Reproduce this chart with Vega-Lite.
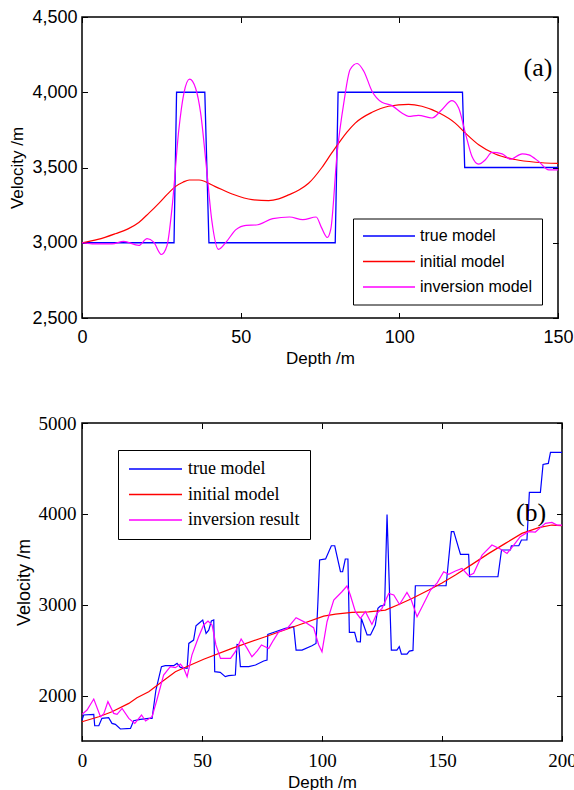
{
  "$schema": "https://vega.github.io/schema/vega-lite/v6.json",
  "background": "white",
  "padding": {"left": 8, "top": 7, "right": 0, "bottom": 0},
  "bounds": "flush",
  "spacing": 105,
  "config": {
    "view": {"stroke": "black", "strokeWidth": 1.5},
    "axis": {"domain": false, "grid": false, "ticks": true, "tickSize": -5.5, "tickColor": "black", "tickWidth": 1,
             "labelColor": "black", "titleColor": "black", "titleFontWeight": "normal", "labelFlush": false},
    "legend": {"orient": "none", "title": null, "strokeColor": "black", "fillColor": "white", "symbolType": "stroke",
               "symbolSize": 2704, "symbolStrokeWidth": 1.3, "labelColor": "black", "cornerRadius": 0}
  },
  "resolve": {"scale": {"x": "independent", "y": "independent", "color": "independent"}, "legend": {"color": "independent"}},
  "datasets": {
    "a_true": [
      {"depth": 0, "vel": 3000, "model": "true model"}, {"depth": 29, "vel": 3000, "model": "true model"},
      {"depth": 29.8, "vel": 4000, "model": "true model"}, {"depth": 38.7, "vel": 4000, "model": "true model"},
      {"depth": 40, "vel": 3000, "model": "true model"}, {"depth": 79.8, "vel": 3000, "model": "true model"},
      {"depth": 80.7, "vel": 4000, "model": "true model"}, {"depth": 119.9, "vel": 4000, "model": "true model"},
      {"depth": 120.6, "vel": 3500, "model": "true model"}, {"depth": 150, "vel": 3500, "model": "true model"}
    ],
    "a_init": [
      {"depth": 0, "vel": 3000, "model": "initial model"}, {"depth": 5, "vel": 3022, "model": "initial model"},
      {"depth": 10.5, "vel": 3060, "model": "initial model"}, {"depth": 14.5, "vel": 3092, "model": "initial model"},
      {"depth": 17.9, "vel": 3135, "model": "initial model"}, {"depth": 21, "vel": 3195, "model": "initial model"},
      {"depth": 24.2, "vel": 3262, "model": "initial model"}, {"depth": 27, "vel": 3325, "model": "initial model"},
      {"depth": 29.4, "vel": 3373, "model": "initial model"}, {"depth": 31.8, "vel": 3402, "model": "initial model"},
      {"depth": 33.8, "vel": 3417, "model": "initial model"}, {"depth": 36.9, "vel": 3417, "model": "initial model"},
      {"depth": 42, "vel": 3373, "model": "initial model"}, {"depth": 47.3, "vel": 3324, "model": "initial model"},
      {"depth": 53.6, "vel": 3286, "model": "initial model"}, {"depth": 58.8, "vel": 3280, "model": "initial model"},
      {"depth": 62, "vel": 3292, "model": "initial model"}, {"depth": 65.1, "vel": 3318, "model": "initial model"},
      {"depth": 68.5, "vel": 3352, "model": "initial model"}, {"depth": 71.4, "vel": 3395, "model": "initial model"},
      {"depth": 75.6, "vel": 3500, "model": "initial model"}, {"depth": 78.5, "vel": 3590, "model": "initial model"},
      {"depth": 80.9, "vel": 3662, "model": "initial model"}, {"depth": 83.5, "vel": 3735, "model": "initial model"},
      {"depth": 86.1, "vel": 3795, "model": "initial model"}, {"depth": 91.4, "vel": 3867, "model": "initial model"},
      {"depth": 96.6, "vel": 3907, "model": "initial model"}, {"depth": 102.9, "vel": 3920, "model": "initial model"},
      {"depth": 107.1, "vel": 3907, "model": "initial model"}, {"depth": 112.6, "vel": 3862, "model": "initial model"},
      {"depth": 117.6, "vel": 3795, "model": "initial model"}, {"depth": 120.8, "vel": 3729, "model": "initial model"},
      {"depth": 125, "vel": 3651, "model": "initial model"}, {"depth": 130.2, "vel": 3590, "model": "initial model"},
      {"depth": 136.5, "vel": 3553, "model": "initial model"}, {"depth": 142.9, "vel": 3535, "model": "initial model"},
      {"depth": 150, "vel": 3527, "model": "initial model"}
    ],
    "a_inv": [
      {"depth": 0, "vel": 3000, "model": "inversion model"}, {"depth": 3.2, "vel": 2993, "model": "inversion model"},
      {"depth": 9.5, "vel": 2993, "model": "inversion model"}, {"depth": 13.1, "vel": 3009, "model": "inversion model"},
      {"depth": 17.9, "vel": 2982, "model": "inversion model"}, {"depth": 20.5, "vel": 3027, "model": "inversion model"},
      {"depth": 22.6, "vel": 3004, "model": "inversion model"}, {"depth": 25, "vel": 2922, "model": "inversion model"},
      {"depth": 26.8, "vel": 2982, "model": "inversion model"}, {"depth": 28.4, "vel": 3238, "model": "inversion model"},
      {"depth": 30.5, "vel": 3749, "model": "inversion model"}, {"depth": 32.1, "vel": 3993, "model": "inversion model"},
      {"depth": 33.9, "vel": 4087, "model": "inversion model"}, {"depth": 35.8, "vel": 4027, "model": "inversion model"},
      {"depth": 37.4, "vel": 3860, "model": "inversion model"}, {"depth": 39.2, "vel": 3504, "model": "inversion model"},
      {"depth": 40.9, "vel": 3149, "model": "inversion model"}, {"depth": 43, "vel": 2956, "model": "inversion model"},
      {"depth": 45.4, "vel": 3004, "model": "inversion model"}, {"depth": 48.5, "vel": 3087, "model": "inversion model"},
      {"depth": 51.7, "vel": 3116, "model": "inversion model"}, {"depth": 54.9, "vel": 3118, "model": "inversion model"},
      {"depth": 60.1, "vel": 3160, "model": "inversion model"}, {"depth": 65.4, "vel": 3171, "model": "inversion model"},
      {"depth": 69.6, "vel": 3153, "model": "inversion model"}, {"depth": 73.8, "vel": 3171, "model": "inversion model"},
      {"depth": 75.4, "vel": 3104, "model": "inversion model"}, {"depth": 77.3, "vel": 3035, "model": "inversion model"},
      {"depth": 78.4, "vel": 3090, "model": "inversion model"}, {"depth": 80.4, "vel": 3595, "model": "inversion model"},
      {"depth": 82.5, "vel": 3929, "model": "inversion model"}, {"depth": 84.5, "vel": 4151, "model": "inversion model"},
      {"depth": 86.7, "vel": 4191, "model": "inversion model"}, {"depth": 88.8, "vel": 4140, "model": "inversion model"},
      {"depth": 91.4, "vel": 4007, "model": "inversion model"}, {"depth": 94.5, "vel": 3933, "model": "inversion model"},
      {"depth": 97.7, "vel": 3911, "model": "inversion model"}, {"depth": 100.8, "vel": 3862, "model": "inversion model"},
      {"depth": 102.9, "vel": 3840, "model": "inversion model"}, {"depth": 106, "vel": 3847, "model": "inversion model"},
      {"depth": 110.3, "vel": 3829, "model": "inversion model"}, {"depth": 113.4, "vel": 3884, "model": "inversion model"},
      {"depth": 116.6, "vel": 3944, "model": "inversion model"}, {"depth": 118.7, "vel": 3895, "model": "inversion model"},
      {"depth": 120.8, "vel": 3729, "model": "inversion model"}, {"depth": 122.9, "vel": 3573, "model": "inversion model"},
      {"depth": 125, "vel": 3522, "model": "inversion model"}, {"depth": 127.1, "vel": 3551, "model": "inversion model"},
      {"depth": 129.2, "vel": 3600, "model": "inversion model"}, {"depth": 132.4, "vel": 3591, "model": "inversion model"},
      {"depth": 135, "vel": 3555, "model": "inversion model"}, {"depth": 138.7, "vel": 3591, "model": "inversion model"},
      {"depth": 140.8, "vel": 3584, "model": "inversion model"}, {"depth": 143.9, "vel": 3540, "model": "inversion model"},
      {"depth": 147.1, "vel": 3484, "model": "inversion model"}, {"depth": 150, "vel": 3484, "model": "inversion model"}
    ],
    "a_lab": [{"depth": 143.7, "vel": 4160, "label": "(a)"}],
    "b_true": [
      {"depth": 0, "vel": 1731, "model": "true model"}, {"depth": 0.7, "vel": 1786, "model": "true model"},
      {"depth": 4.9, "vel": 1793, "model": "true model"}, {"depth": 5.3, "vel": 1668, "model": "true model"},
      {"depth": 7, "vel": 1668, "model": "true model"}, {"depth": 8.3, "vel": 1749, "model": "true model"},
      {"depth": 11.1, "vel": 1756, "model": "true model"}, {"depth": 12.5, "vel": 1694, "model": "true model"},
      {"depth": 13.9, "vel": 1683, "model": "true model"}, {"depth": 16, "vel": 1632, "model": "true model"},
      {"depth": 20.2, "vel": 1639, "model": "true model"}, {"depth": 21.5, "vel": 1723, "model": "true model"},
      {"depth": 24.3, "vel": 1738, "model": "true model"}, {"depth": 27.8, "vel": 1749, "model": "true model"},
      {"depth": 29.2, "vel": 1749, "model": "true model"}, {"depth": 30.8, "vel": 2061, "model": "true model"},
      {"depth": 33.1, "vel": 2318, "model": "true model"}, {"depth": 34.7, "vel": 2329, "model": "true model"},
      {"depth": 38.2, "vel": 2329, "model": "true model"}, {"depth": 39.6, "vel": 2354, "model": "true model"},
      {"depth": 41, "vel": 2310, "model": "true model"}, {"depth": 43.8, "vel": 2299, "model": "true model"},
      {"depth": 44.5, "vel": 2574, "model": "true model"}, {"depth": 46.5, "vel": 2611, "model": "true model"},
      {"depth": 47.5, "vel": 2769, "model": "true model"}, {"depth": 48.6, "vel": 2794, "model": "true model"},
      {"depth": 50.3, "vel": 2832, "model": "true model"}, {"depth": 51.7, "vel": 2684, "model": "true model"},
      {"depth": 52.8, "vel": 2720, "model": "true model"}, {"depth": 53.9, "vel": 2821, "model": "true model"},
      {"depth": 54.9, "vel": 2832, "model": "true model"}, {"depth": 55.3, "vel": 2263, "model": "true model"},
      {"depth": 57.6, "vel": 2256, "model": "true model"}, {"depth": 59.7, "vel": 2208, "model": "true model"},
      {"depth": 61.1, "vel": 2219, "model": "true model"}, {"depth": 63.9, "vel": 2226, "model": "true model"},
      {"depth": 64.6, "vel": 2563, "model": "true model"}, {"depth": 65.3, "vel": 2560, "model": "true model"},
      {"depth": 66, "vel": 2318, "model": "true model"}, {"depth": 69.5, "vel": 2318, "model": "true model"},
      {"depth": 72.3, "vel": 2336, "model": "true model"}, {"depth": 75.7, "vel": 2380, "model": "true model"},
      {"depth": 77.1, "vel": 2391, "model": "true model"}, {"depth": 77.4, "vel": 2673, "model": "true model"},
      {"depth": 80.6, "vel": 2703, "model": "true model"}, {"depth": 84.7, "vel": 2739, "model": "true model"},
      {"depth": 88.2, "vel": 2758, "model": "true model"}, {"depth": 89.2, "vel": 2501, "model": "true model"},
      {"depth": 91.7, "vel": 2501, "model": "true model"}, {"depth": 95.8, "vel": 2549, "model": "true model"},
      {"depth": 97.5, "vel": 2574, "model": "true model"}, {"depth": 98.3, "vel": 3033, "model": "true model"},
      {"depth": 99, "vel": 3492, "model": "true model"}, {"depth": 101.5, "vel": 3504, "model": "true model"},
      {"depth": 103.9, "vel": 3649, "model": "true model"}, {"depth": 105.3, "vel": 3649, "model": "true model"},
      {"depth": 107.7, "vel": 3363, "model": "true model"}, {"depth": 108.6, "vel": 3363, "model": "true model"},
      {"depth": 109.7, "vel": 3503, "model": "true model"}, {"depth": 110.8, "vel": 3503, "model": "true model"},
      {"depth": 111.4, "vel": 2696, "model": "true model"}, {"depth": 113.6, "vel": 2696, "model": "true model"},
      {"depth": 114.6, "vel": 2593, "model": "true model"}, {"depth": 116, "vel": 2590, "model": "true model"},
      {"depth": 116.4, "vel": 2849, "model": "true model"}, {"depth": 118.8, "vel": 2667, "model": "true model"},
      {"depth": 120.2, "vel": 2667, "model": "true model"}, {"depth": 122.2, "vel": 2777, "model": "true model"},
      {"depth": 123.3, "vel": 2960, "model": "true model"}, {"depth": 124.3, "vel": 2985, "model": "true model"},
      {"depth": 126.1, "vel": 2997, "model": "true model"}, {"depth": 127.1, "vel": 3994, "model": "true model"},
      {"depth": 128.9, "vel": 2501, "model": "true model"}, {"depth": 131.2, "vel": 2501, "model": "true model"},
      {"depth": 132.2, "vel": 2538, "model": "true model"}, {"depth": 133.1, "vel": 2457, "model": "true model"},
      {"depth": 135.4, "vel": 2457, "model": "true model"}, {"depth": 136.4, "vel": 2490, "model": "true model"},
      {"depth": 137.9, "vel": 2497, "model": "true model"}, {"depth": 138.9, "vel": 3209, "model": "true model"},
      {"depth": 151.7, "vel": 3209, "model": "true model"}, {"depth": 153.9, "vel": 3804, "model": "true model"},
      {"depth": 154.9, "vel": 3804, "model": "true model"}, {"depth": 157.7, "vel": 3554, "model": "true model"},
      {"depth": 161.1, "vel": 3554, "model": "true model"}, {"depth": 161.5, "vel": 3308, "model": "true model"},
      {"depth": 173.3, "vel": 3308, "model": "true model"}, {"depth": 174.8, "vel": 3602, "model": "true model"},
      {"depth": 178.5, "vel": 3602, "model": "true model"}, {"depth": 178.9, "vel": 3649, "model": "true model"},
      {"depth": 182, "vel": 3649, "model": "true model"}, {"depth": 183.1, "vel": 3712, "model": "true model"},
      {"depth": 185.4, "vel": 3712, "model": "true model"}, {"depth": 186.4, "vel": 4236, "model": "true model"},
      {"depth": 191, "vel": 4236, "model": "true model"}, {"depth": 192.1, "vel": 4544, "model": "true model"},
      {"depth": 194.3, "vel": 4555, "model": "true model"}, {"depth": 195.2, "vel": 4676, "model": "true model"},
      {"depth": 200, "vel": 4676, "model": "true model"}
    ],
    "b_init": [
      {"depth": 0, "vel": 1712, "model": "initial model"}, {"depth": 7, "vel": 1767, "model": "initial model"},
      {"depth": 12.5, "vel": 1822, "model": "initial model"}, {"depth": 19.5, "vel": 1914, "model": "initial model"},
      {"depth": 22.9, "vel": 1977, "model": "initial model"}, {"depth": 27.8, "vel": 2043, "model": "initial model"},
      {"depth": 33.3, "vel": 2153, "model": "initial model"}, {"depth": 38.9, "vel": 2263, "model": "initial model"},
      {"depth": 44.5, "vel": 2329, "model": "initial model"}, {"depth": 50.7, "vel": 2400, "model": "initial model"},
      {"depth": 62.5, "vel": 2519, "model": "initial model"}, {"depth": 76.4, "vel": 2648, "model": "initial model"},
      {"depth": 90.3, "vel": 2777, "model": "initial model"}, {"depth": 100.7, "vel": 2875, "model": "initial model"},
      {"depth": 105.6, "vel": 2897, "model": "initial model"}, {"depth": 112.5, "vel": 2915, "model": "initial model"},
      {"depth": 119.4, "vel": 2922, "model": "initial model"}, {"depth": 126.4, "vel": 2941, "model": "initial model"},
      {"depth": 132, "vel": 3003, "model": "initial model"}, {"depth": 137.5, "vel": 3069, "model": "initial model"},
      {"depth": 144.5, "vel": 3162, "model": "initial model"}, {"depth": 150, "vel": 3240, "model": "initial model"},
      {"depth": 155.6, "vel": 3327, "model": "initial model"}, {"depth": 162.5, "vel": 3444, "model": "initial model"},
      {"depth": 169.5, "vel": 3565, "model": "initial model"}, {"depth": 176.4, "vel": 3675, "model": "initial model"},
      {"depth": 183.3, "vel": 3785, "model": "initial model"}, {"depth": 190.3, "vel": 3848, "model": "initial model"},
      {"depth": 195.8, "vel": 3877, "model": "initial model"}, {"depth": 200, "vel": 3870, "model": "initial model"}
    ],
    "b_inv": [
      {"depth": 0, "vel": 1793, "model": "inversion result"}, {"depth": 2.1, "vel": 1841, "model": "inversion result"},
      {"depth": 4.9, "vel": 1962, "model": "inversion result"}, {"depth": 7.7, "vel": 1767, "model": "inversion result"},
      {"depth": 9.1, "vel": 1800, "model": "inversion result"}, {"depth": 10.8, "vel": 1933, "model": "inversion result"},
      {"depth": 13.2, "vel": 1804, "model": "inversion result"}, {"depth": 14.6, "vel": 1793, "model": "inversion result"},
      {"depth": 16.7, "vel": 1859, "model": "inversion result"}, {"depth": 19.5, "vel": 1749, "model": "inversion result"},
      {"depth": 22, "vel": 1694, "model": "inversion result"}, {"depth": 24.8, "vel": 1786, "model": "inversion result"},
      {"depth": 26.5, "vel": 1720, "model": "inversion result"}, {"depth": 29.2, "vel": 1767, "model": "inversion result"},
      {"depth": 31.2, "vel": 1951, "model": "inversion result"}, {"depth": 34, "vel": 2226, "model": "inversion result"},
      {"depth": 36.8, "vel": 2318, "model": "inversion result"}, {"depth": 38.9, "vel": 2307, "model": "inversion result"},
      {"depth": 41, "vel": 2347, "model": "inversion result"}, {"depth": 42.4, "vel": 2300, "model": "inversion result"},
      {"depth": 43.8, "vel": 2208, "model": "inversion result"}, {"depth": 45.8, "vel": 2446, "model": "inversion result"},
      {"depth": 48.6, "vel": 2648, "model": "inversion result"}, {"depth": 50.7, "vel": 2777, "model": "inversion result"},
      {"depth": 52.5, "vel": 2821, "model": "inversion result"}, {"depth": 54.2, "vel": 2777, "model": "inversion result"},
      {"depth": 55.8, "vel": 2557, "model": "inversion result"}, {"depth": 57.7, "vel": 2409, "model": "inversion result"},
      {"depth": 61.9, "vel": 2409, "model": "inversion result"}, {"depth": 63.9, "vel": 2483, "model": "inversion result"},
      {"depth": 66.3, "vel": 2623, "model": "inversion result"}, {"depth": 68.8, "vel": 2519, "model": "inversion result"},
      {"depth": 70.8, "vel": 2428, "model": "inversion result"}, {"depth": 73, "vel": 2491, "model": "inversion result"},
      {"depth": 74.8, "vel": 2557, "model": "inversion result"}, {"depth": 77.8, "vel": 2519, "model": "inversion result"},
      {"depth": 79.8, "vel": 2611, "model": "inversion result"}, {"depth": 82, "vel": 2703, "model": "inversion result"},
      {"depth": 85.5, "vel": 2739, "model": "inversion result"}, {"depth": 89.2, "vel": 2857, "model": "inversion result"},
      {"depth": 93, "vel": 2806, "model": "inversion result"}, {"depth": 96.5, "vel": 2747, "model": "inversion result"},
      {"depth": 98.6, "vel": 2560, "model": "inversion result"}, {"depth": 100, "vel": 2483, "model": "inversion result"},
      {"depth": 102.1, "vel": 2813, "model": "inversion result"}, {"depth": 104.9, "vel": 3052, "model": "inversion result"},
      {"depth": 108.3, "vel": 3143, "model": "inversion result"}, {"depth": 110.4, "vel": 3206, "model": "inversion result"},
      {"depth": 111.8, "vel": 3107, "model": "inversion result"}, {"depth": 113.9, "vel": 2923, "model": "inversion result"},
      {"depth": 116, "vel": 2849, "model": "inversion result"}, {"depth": 118.1, "vel": 2923, "model": "inversion result"},
      {"depth": 120.8, "vel": 2783, "model": "inversion result"}, {"depth": 122.9, "vel": 2904, "model": "inversion result"},
      {"depth": 125, "vel": 2960, "model": "inversion result"}, {"depth": 127.8, "vel": 3124, "model": "inversion result"},
      {"depth": 129.9, "vel": 3107, "model": "inversion result"}, {"depth": 132.3, "vel": 3003, "model": "inversion result"},
      {"depth": 135.4, "vel": 3135, "model": "inversion result"}, {"depth": 137.2, "vel": 3052, "model": "inversion result"},
      {"depth": 139.6, "vel": 2868, "model": "inversion result"}, {"depth": 142.4, "vel": 3014, "model": "inversion result"},
      {"depth": 145.2, "vel": 3162, "model": "inversion result"}, {"depth": 148, "vel": 3240, "model": "inversion result"},
      {"depth": 150.7, "vel": 3363, "model": "inversion result"}, {"depth": 152.8, "vel": 3334, "model": "inversion result"},
      {"depth": 155.6, "vel": 3371, "model": "inversion result"}, {"depth": 158.3, "vel": 3400, "model": "inversion result"},
      {"depth": 161.1, "vel": 3319, "model": "inversion result"}, {"depth": 163.2, "vel": 3345, "model": "inversion result"},
      {"depth": 166.7, "vel": 3547, "model": "inversion result"}, {"depth": 170.8, "vel": 3657, "model": "inversion result"},
      {"depth": 174.3, "vel": 3613, "model": "inversion result"}, {"depth": 177.1, "vel": 3565, "model": "inversion result"},
      {"depth": 179.9, "vel": 3657, "model": "inversion result"}, {"depth": 182.6, "vel": 3749, "model": "inversion result"},
      {"depth": 186.1, "vel": 3804, "model": "inversion result"}, {"depth": 188.9, "vel": 3800, "model": "inversion result"},
      {"depth": 191, "vel": 3848, "model": "inversion result"}, {"depth": 193.1, "vel": 3895, "model": "inversion result"},
      {"depth": 195.8, "vel": 3906, "model": "inversion result"}, {"depth": 197.9, "vel": 3877, "model": "inversion result"},
      {"depth": 200, "vel": 3877, "model": "inversion result"}
    ],
    "b_lab": [{"depth": 187.1, "vel": 4005, "label": "(b)"}]
  },
  "vconcat": [
    {
      "width": 476,
      "height": 301,
      "resolve": {"axis": {"x": "independent", "y": "independent"}},
      "layer": [
        {
          "data": {"name": "a_true"},
          "mark": {"type": "line", "strokeWidth": 1.3},
          "encoding": {
            "x": {"field": "depth", "type": "quantitative", "scale": {"domain": [0, 150], "nice": false, "zero": false},
                  "axis": {"orient": "bottom", "values": [0, 50, 100, 150], "title": "Depth /m", "labelFont": "Liberation Sans",
                           "labelFontSize": 18, "labelPadding": 15.5, "titleFont": "Liberation Sans", "titleFontSize": 17, "titlePadding": 4}},
            "y": {"field": "vel", "type": "quantitative", "scale": {"domain": [2500, 4500], "nice": false, "zero": false},
                  "axis": {"orient": "left", "values": [2500, 3000, 3500, 4000, 4500], "format": ",d", "title": "Velocity /m",
                           "labelFont": "Liberation Sans", "labelFontSize": 18, "labelPadding": 10.5, "titleFont": "Liberation Sans",
                           "titleFontSize": 17, "titlePadding": 5}},
            "color": {"field": "model", "type": "nominal",
                      "scale": {"domain": ["true model", "initial model", "inversion model"], "range": ["#0000ff", "#ff0000", "#ff00ff"]},
                      "legend": {"orient": "none", "legendX": 271, "legendY": 201.5, "labelFont": "Liberation Sans", "labelFontSize": 16,
                                 "labelOffset": 4, "padding": 9, "rowPadding": 8.5, "clipHeight": 17}}
          }
        },
        {
          "data": {"name": "a_init"},
          "mark": {"type": "line", "strokeWidth": 1.2, "interpolate": "monotone"},
          "encoding": {
            "x": {"field": "depth", "type": "quantitative", "axis": null},
            "y": {"field": "vel", "type": "quantitative", "axis": null},
            "color": {"field": "model", "type": "nominal"}
          }
        },
        {
          "data": {"name": "a_inv"},
          "mark": {"type": "line", "strokeWidth": 1.2, "interpolate": "monotone"},
          "encoding": {
            "x": {"field": "depth", "type": "quantitative", "axis": null},
            "y": {"field": "vel", "type": "quantitative", "axis": null},
            "color": {"field": "model", "type": "nominal"}
          }
        },
        {
          "data": {"name": "a_lab"},
          "mark": {"type": "text", "font": "Liberation Serif", "fontSize": 26, "align": "center", "baseline": "middle", "color": "black"},
          "encoding": {
            "x": {"field": "depth", "type": "quantitative",
                  "axis": {"orient": "top", "values": [0, 50, 100, 150], "labels": false, "title": null}},
            "y": {"field": "vel", "type": "quantitative",
                  "axis": {"orient": "right", "values": [2500, 3000, 3500, 4000, 4500], "labels": false, "title": null}},
            "text": {"field": "label"}
          }
        }
      ]
    },
    {
      "width": 480,
      "height": 318,
      "resolve": {"axis": {"x": "independent", "y": "independent"}},
      "layer": [
        {
          "data": {"name": "b_true"},
          "mark": {"type": "line", "strokeWidth": 1.2},
          "encoding": {
            "x": {"field": "depth", "type": "quantitative", "scale": {"domain": [0, 200], "nice": false, "zero": false},
                  "axis": {"orient": "bottom", "values": [0, 50, 100, 150, 200], "title": "Depth /m", "labelFont": "Liberation Serif",
                           "labelFontSize": 19, "labelPadding": 15.5, "titleFont": "Liberation Sans", "titleFontSize": 17, "titlePadding": 4}},
            "y": {"field": "vel", "type": "quantitative", "scale": {"domain": [1500, 5000], "nice": false, "zero": false},
                  "axis": {"orient": "left", "values": [2000, 3000, 4000, 5000], "format": "d", "title": "Velocity /m",
                           "labelFont": "Liberation Serif", "labelFontSize": 19, "labelPadding": 11.5, "titleFont": "Liberation Sans",
                           "titleFontSize": 18, "titlePadding": 5}},
            "color": {"field": "model", "type": "nominal",
                      "scale": {"domain": ["true model", "initial model", "inversion result"], "range": ["#0000ff", "#ff0000", "#ff00ff"]},
                      "legend": {"orient": "none", "legendX": 36, "legendY": 27, "labelFont": "Liberation Serif", "labelFontSize": 18,
                                 "labelOffset": 5, "padding": 10, "rowPadding": 7.5, "clipHeight": 18, "symbolSize": 2809}}
          }
        },
        {
          "data": {"name": "b_init"},
          "mark": {"type": "line", "strokeWidth": 1.2},
          "encoding": {
            "x": {"field": "depth", "type": "quantitative", "axis": null},
            "y": {"field": "vel", "type": "quantitative", "axis": null},
            "color": {"field": "model", "type": "nominal"}
          }
        },
        {
          "data": {"name": "b_inv"},
          "mark": {"type": "line", "strokeWidth": 1.2},
          "encoding": {
            "x": {"field": "depth", "type": "quantitative", "axis": null},
            "y": {"field": "vel", "type": "quantitative", "axis": null},
            "color": {"field": "model", "type": "nominal"}
          }
        },
        {
          "data": {"name": "b_lab"},
          "mark": {"type": "text", "font": "Liberation Serif", "fontSize": 26, "align": "center", "baseline": "middle", "color": "black"},
          "encoding": {
            "x": {"field": "depth", "type": "quantitative",
                  "axis": {"orient": "top", "values": [0, 50, 100, 150, 200], "labels": false, "title": null}},
            "y": {"field": "vel", "type": "quantitative",
                  "axis": {"orient": "right", "values": [2000, 3000, 4000, 5000], "labels": false, "title": null}},
            "text": {"field": "label"}
          }
        }
      ]
    }
  ]
}
